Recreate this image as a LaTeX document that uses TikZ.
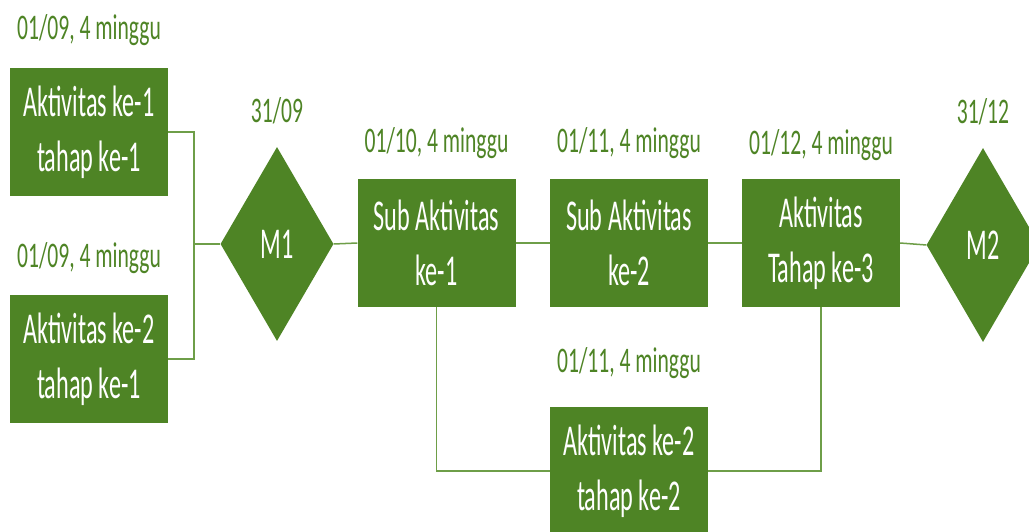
\documentclass[tikz,border=0pt]{standalone}
\usepackage{fontspec}
\setmainfont{Carlito}[FakeStretch=0.55]
\newfontfamily\labfont{Carlito}[FakeStretch=0.6]
\usetikzlibrary{shapes.geometric}
\definecolor{gr}{HTML}{4E8425}
\definecolor{ln}{HTML}{6E9E48}
\begin{document}
\begin{tikzpicture}[x=1pt,y=-1pt,
 box/.style={fill=gr, minimum width=158pt, minimum height=128pt, inner sep=0pt, text=white, align=center, font=\fontsize{44}{55}\selectfont},
 ms/.style={diamond, fill=gr, minimum width=113pt, minimum height=194pt, inner sep=0pt, text=white, font=\fontsize{44}{55}\selectfont},
 lab/.style={text=gr, font=\labfont\fontsize{36}{40}\selectfont, inner sep=0pt},
 conn/.style={draw=ln, line width=1.5pt}]
\useasboundingbox[fill=white] (0,0) rectangle (1029,532);
% boxes
\node[box] (A1) at (89,132) {Aktivitas ke-1\\tahap ke-1};
\node[box] (A2) at (89,359) {Aktivitas ke-2\\tahap ke-1};
\node[ms] (M1) at (277,244) {M1};
\node[box] (S1) at (436.5,243) {Sub Aktivitas\\ke-1};
\node[box] (S2) at (629,243) {Sub Aktivitas\\ke-2};
\node[box] (A3) at (821,243) {Aktivitas\\Tahap ke-3};
\node[ms] (M2) at (983,245) {M2};
\node[box] (B) at (629,471) {Aktivitas ke-2\\tahap ke-2};
% labels
\node[lab] (LA1) at (89,30) {01/09, 4 minggu};
\node[lab] (LA2) at (89,258) {01/09, 4 minggu};
\node[lab] (LM1) at (277,111) {31/09};
\node[lab] (LS1) at (436.5,143) {01/10, 4 minggu};
\node[lab] (LS2) at (629,143) {01/11, 4 minggu};
\node[lab] (LA3) at (821,145) {01/12, 4 minggu};
\node[lab] (LM2) at (983,112) {31/12};
\node[lab] (LB) at (629,363) {01/11, 4 minggu};
% connectors
\coordinate (j) at (194,244);
\draw[conn] (A1.east) -| (j) |- (A2.east);
\draw[conn] (j) -- (M1.west);
\draw[conn] (M1.east) -- (S1.west);
\draw[conn] (S1.east) -- (S2.west);
\draw[conn] (S2.east) -- (A3.west);
\draw[conn] (A3.east) -- (M2.west);
\draw[conn] (S1.south) |- (B.west);
\draw[conn] (B.east) -| (A3.south);
\end{tikzpicture}
\end{document}
